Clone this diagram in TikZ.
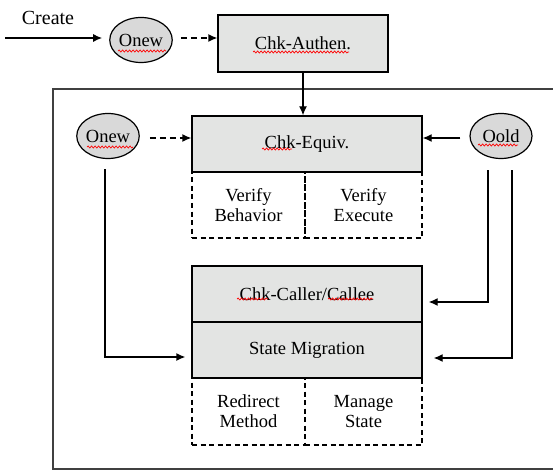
\documentclass[tikz,border=0pt]{standalone}
\usepackage{fontspec}
\setmainfont{Liberation Serif}
\usetikzlibrary{arrows.meta,shapes.geometric,decorations.pathmorphing,calc}
\definecolor{boxfill}{HTML}{E3E4E3}
\definecolor{ovalfill}{HTML}{D9D9D9}
\begin{document}
\begin{tikzpicture}[x=1pt,y=-1pt,
  every node/.style={font=\fontsize{18.5}{20}\selectfont},
  solidbox/.style={draw, line width=1.3pt, fill=boxfill, inner sep=0pt, rectangle},
  dashbox/.style={draw, line width=1.3pt, dash pattern=on 5pt off 3.5pt, inner sep=0pt, align=center},
  oval/.style={ellipse, draw, line width=1.2pt, fill=ovalfill, minimum width=62pt, minimum height=45pt, inner sep=0pt},
  arr/.style={line width=1.3pt, -{Latex[length=9pt,width=8pt]}},
  darr/.style={arr, dash pattern=on 6pt off 4pt},
  squig/.style={red, line width=0.7pt, decorate, decoration={snake, segment length=3.5pt, amplitude=1pt}}]
\useasboundingbox (0,0) rectangle (553,470);
\draw[line width=1.5pt, black!75] (53,89) rectangle (570,469);

\node[oval] (onewA) at (141,40) {Onew};
\node[solidbox, minimum width=170pt, minimum height=57pt] (authen) at (303,43.5) {Chk-Authen.};
\node[oval] (onewB) at (108,136) {Onew};
\node[oval] (oold) at (501,136) {Oold};
\node[solidbox, minimum width=230pt, minimum height=56pt] (equiv) at (307,144) {Chk-Equiv.};
\node[dashbox, minimum width=113pt, minimum height=66pt] (vb) at (248.5,205) {Verify\\Behavior};
\node[dashbox, minimum width=117pt, minimum height=66pt] (ve) at (363.5,205) {Verify\\Execute};
\node[solidbox, minimum width=230pt, minimum height=56pt] (caller) at (307,294) {Chk-Caller/Callee};
\node[solidbox, minimum width=230pt, minimum height=56pt] (state) at (307,350) {State Migration};
\node[dashbox, minimum width=113pt, minimum height=67pt] (rm) at (248.5,411.5) {Redirect\\Method};
\node[dashbox, minimum width=117pt, minimum height=67pt] (ms) at (363.5,411.5) {Manage\\State};
\node[anchor=base, font=\fontsize{20}{22}\selectfont] (create) at (48,25) {Create};
\coordinate (start) at (5,38);

\draw[arr, shorten >=7pt] (start) -- (start -| onewA.west);
\draw[darr, shorten <=8pt] ([yshift=2pt]onewA.east) -- ([yshift=2pt]onewA.east -| authen.west);
\draw[arr] (authen.south) -- (authen.south |- equiv.north);
\draw[darr, shorten <=10pt] ([yshift=-2pt]onewB.east) -- ([yshift=-2pt]onewB.east -| equiv.west);
\draw[arr, shorten <=9pt] ([yshift=-2pt]oold.west) -- ([yshift=-2pt]oold.west -| equiv.east);
\draw[arr, shorten <=10pt, shorten >=6pt] ([xshift=-3pt]onewB.south) |- ([yshift=-7pt]state.west);
\draw[arr, shorten <=11pt, shorten >=6pt] ([xshift=-13pt]oold.south) |- ([yshift=-8pt]caller.east);
\draw[arr, shorten <=11pt, shorten >=11pt] ([xshift=11pt]oold.south) |- ([yshift=-8pt]state.east);

\draw[squig] (118,51) -- (166,51);
\draw[squig] (253,52) -- (349,52);
\draw[squig] (87,147) -- (133,147);
\draw[squig] (262,149) -- (292,149);
\draw[squig] (478,145) -- (518,145);
\draw[squig] (237,299) -- (268,299);
\draw[squig] (328,299) -- (373,299);
\end{tikzpicture}
\end{document}
